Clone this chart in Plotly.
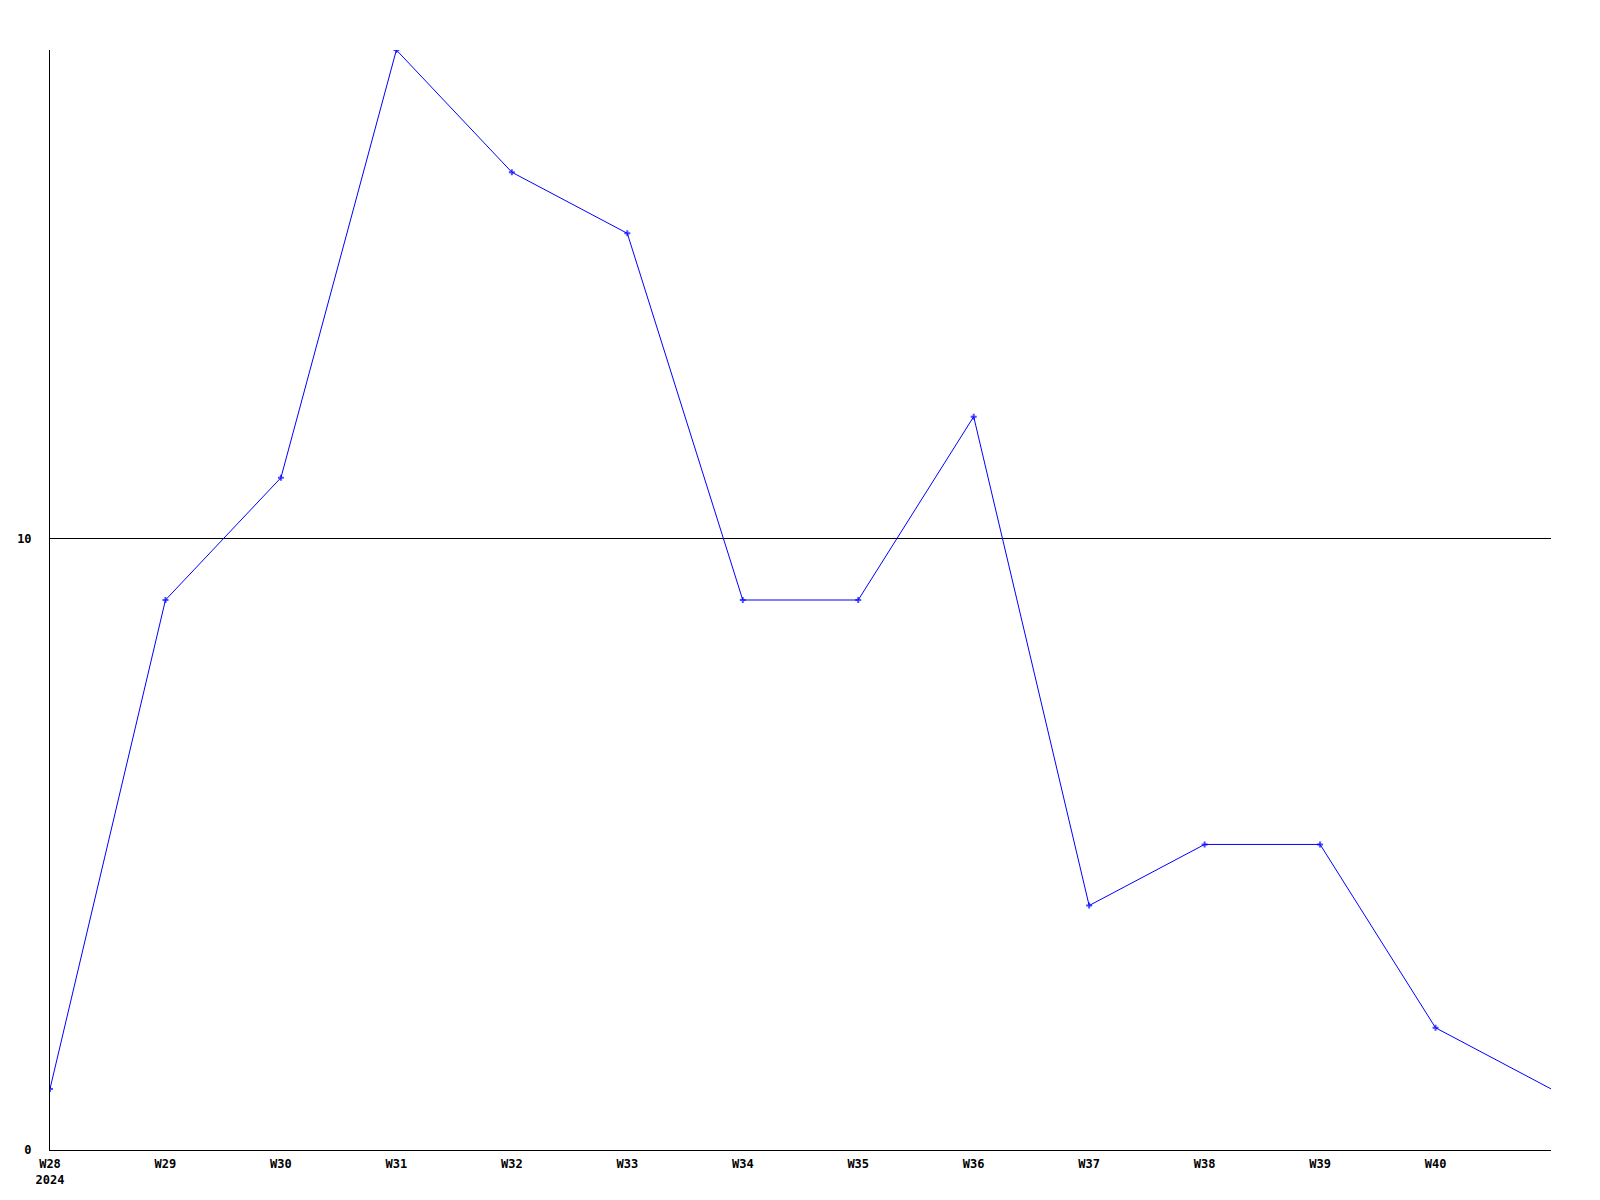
import plotly.graph_objects as go

weeks = ["W28", "W29", "W30", "W31", "W32", "W33", "W34", "W35", "W36", "W37", "W38", "W39", "W40", "W41"]
values = [1, 9, 11, 18, 16, 15, 9, 9, 12, 4, 5, 5, 2, 1]
tick_labels = ["W28<br>2024", "W29", "W30", "W31", "W32", "W33", "W34", "W35", "W36", "W37", "W38", "W39", "W40"]
y_ticks = [0, 10]

x_idx = list(range(len(weeks)))
marker_sizes = [5] * (len(values) - 1) + [0]

fig = go.Figure()
fig.add_trace(go.Scatter(
    x=x_idx, y=values, mode="lines+markers",
    line=dict(color="#0000ff", width=1),
    marker=dict(symbol="cross", size=marker_sizes, color="#0000ff", line=dict(width=0)),
    showlegend=False, hoverinfo="skip",
))

font = dict(family="DejaVu Sans Mono", size=12, color="#000000")
fig.update_layout(
    width=1600, height=1200,
    margin=dict(l=42, r=57, t=42, b=58, autoexpand=False),
    paper_bgcolor="white", plot_bgcolor="white",
    font=font,
)
fig.update_xaxes(
    range=[0, 13], tickmode="array", tickvals=list(range(len(tick_labels))), ticktext=tick_labels,
    showgrid=False, zeroline=False, showline=True, linecolor="black", linewidth=1,
    ticks="", ticklabelstandoff=3, automargin=False,
    tickfont=dict(family="DejaVu Sans Mono", size=12, color="black", weight="bold"),
    fixedrange=True,
)
fig.update_yaxes(
    range=[0, 18], tickmode="array", tickvals=y_ticks, ticktext=[str(v) for v in y_ticks],
    showgrid=True, gridcolor="black", gridwidth=1, zeroline=False,
    showline=True, linecolor="black", linewidth=1, ticks="", ticklabelstandoff=15, automargin=False,
    tickfont=dict(family="DejaVu Sans Mono", size=12, color="black", weight="bold"),
    fixedrange=True,
)
fig.write_html("out.html")
